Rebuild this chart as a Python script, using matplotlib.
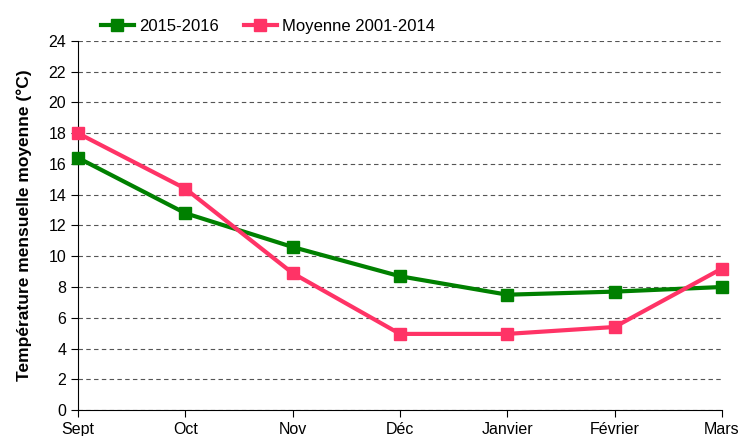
import matplotlib
matplotlib.use("Agg")
import matplotlib.pyplot as plt

plt.rcParams['font.family'] = ['Liberation Sans', 'DejaVu Sans']

mois = ['Sept', 'Oct', 'Nov', 'Déc', 'Janvier', 'Février', 'Mars']
temp_2015_2016 = [16.4, 12.8, 10.6, 8.7, 7.5, 7.7, 8.0]
temp_moyenne = [18.0, 14.4, 8.9, 4.95, 4.95, 5.4, 9.2]
yticks = list(range(0, 25, 2))

green = '#008000'
pink = '#ff3366'

fig = plt.figure(figsize=(7.52, 4.36), dpi=100)
ax = fig.add_axes([0.1037, 0.0596, 0.8563, 0.8464])

x = list(range(len(mois)))
ax.plot(x, temp_2015_2016, color=green, lw=3, marker='s', ms=9,
        label='2015-2016', zorder=3, clip_on=False)
ax.plot(x, temp_moyenne, color=pink, lw=3, marker='s', ms=9,
        label='Moyenne 2001-2014', zorder=4, clip_on=False)

ax.set_xlim(0, len(mois) - 1)
ax.set_ylim(0, 24)
ax.set_xticks(x)
ax.set_xticklabels(mois, fontsize=11.5)
ax.set_yticks(yticks)
ax.tick_params(axis='y', labelsize=11.5, direction='out', length=5)
ax.tick_params(axis='x', direction='out', length=5)

ax.grid(axis='y', linestyle=(0, (4, 3)), color='#555555', lw=0.8)
ax.set_axisbelow(True)
for s in ['top', 'right']:
    ax.spines[s].set_visible(False)

ax.set_ylabel('Température mensuelle moyenne (°C)', fontsize=12.5,
              fontweight='bold', labelpad=12)

ax.legend(loc='lower left', bbox_to_anchor=(0.025, 1.0), ncol=2,
          frameon=False, fontsize=12, handlelength=2.0, columnspacing=1.5,
          borderaxespad=0, handletextpad=0.3)

fig.savefig('out.png', dpi=100)
